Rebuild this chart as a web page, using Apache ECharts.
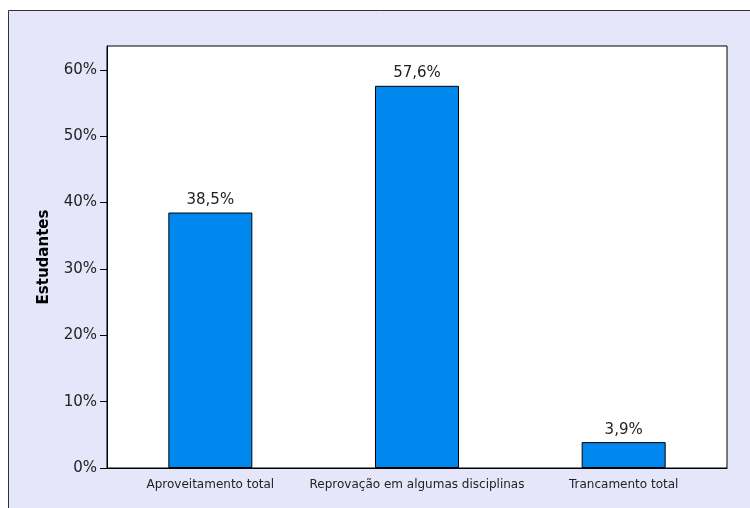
<!DOCTYPE html>
<html>
<head>
<meta charset="utf-8">
<script src="https://cdn.jsdelivr.net/npm/echarts@6/dist/echarts.min.js"></script>
<style>
    html, body { margin: 0; padding: 0; background: #ffffff; }
    #chart { width: 750px; height: 508px; }
</style>
</head>
<body>
<div id="chart"></div>
<script>
var categories = ["Aproveitamento total", "Reprovação em algumas disciplinas", "Trancamento total"];
var values = [38.5, 57.6, 3.9];
var yTicks = [0, 10, 20, 30, 40, 50, 60];

var myChart = echarts.init(document.getElementById("chart"));

var option = {
    animation: false,
    graphic: [
        {
            type: "rect",
            z: -10,
            shape: { x: 8.5, y: 10.5, width: 800, height: 600 },
            style: { fill: "#e6e6fa", stroke: "#333333", lineWidth: 1 },
        },
    ],
    grid: {
        show: true,
        left: 107,
        top: 46,
        right: 23,
        bottom: 40,
        backgroundColor: "#ffffff",
        borderColor: "#000000",
        borderWidth: 1,
    },
    xAxis: {
        type: "category",
        data: categories,
        axisLine: { lineStyle: { color: "#000000", width: 1 } },
        axisTick: { alignWithLabel: true, length: 4, lineStyle: { color: "#000000" } },
        axisLabel: {
            interval: 0,
            hideOverlap: false,
            color: "#222222",
            fontFamily: "DejaVu Sans",
            fontSize: 12,
            margin: 11,
        },
    },
    yAxis: {
        type: "value",
        min: 0,
        max: 63.6,
        interval: 10,
        name: "Estudantes",
        nameLocation: "middle",
        nameGap: 55,
        nameTextStyle: {
            color: "#000000",
            fontFamily: "DejaVu Sans",
            fontSize: 15,
            fontWeight: "bold",
        },
        axisLine: { show: true, lineStyle: { color: "#000000", width: 1 } },
        axisTick: { show: true, length: 7, customValues: yTicks, lineStyle: { color: "#000000" } },
        axisLabel: {
            customValues: yTicks,
            color: "#222222",
            fontFamily: "DejaVu Sans",
            fontSize: 15,
            margin: 10,
            formatter: "{value}%",
        },
        splitLine: { show: false },
    },
    series: [
        {
            type: "bar",
            data: values,
            barWidth: 84,
            itemStyle: {
                color: "#0088ee",
                borderColor: "#000000",
                borderWidth: 1,
            },
            label: {
                show: true,
                position: "top",
                distance: 5,
                color: "#222222",
                fontFamily: "DejaVu Sans",
                fontSize: 15,
                formatter: function (p) {
                    return p.value.toFixed(1).replace(".", ",") + "%";
                },
            },
        },
    ],
};

myChart.setOption(option);
window.addEventListener("resize", function () {
    myChart.resize();
});
</script>
</body>
</html>
